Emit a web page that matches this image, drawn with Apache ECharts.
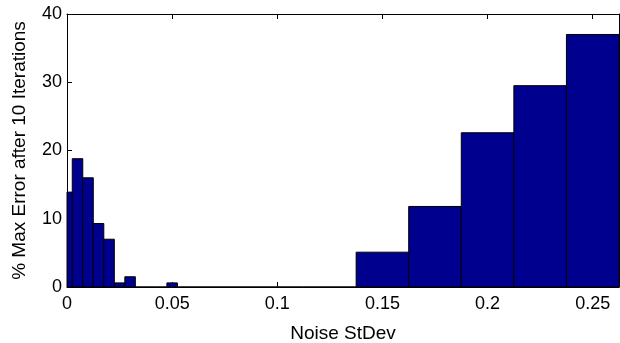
<!DOCTYPE html>
<html>
<head>
<meta charset="utf-8">
<script src="https://cdn.jsdelivr.net/npm/echarts@6/dist/echarts.min.js"></script>
<style>
html,body{margin:0;padding:0;background:#fff;}
#chart{width:620px;height:343px;}
</style>
</head>
<body>
<div id="chart"></div>
<script>
// Noise standard deviation values (bar centers, MATLAB 'hist' style bars)
const noiseStdev = [0, 0.005, 0.01, 0.015, 0.02, 0.025, 0.03, 0.035, 0.04, 0.045, 0.05, 0.055, 0.075, 0.1, 0.125, 0.15, 0.175, 0.2, 0.225, 0.25];
// % max error after 10 iterations
const maxErrorPct = [13.9, 18.8, 16.0, 9.3, 7.0, 0.6, 1.5, 0, 0, 0, 0.6, 0, 0, 0, 0, 5.1, 11.8, 22.6, 29.5, 37.0];
const xTicks = [0, 0.05, 0.1, 0.15, 0.2, 0.25];
const yTicks = [0, 10, 20, 30, 40];

// bar edges at midpoints between neighbouring centers
const barData = noiseStdev.map((x, i) => {
  const prev = i > 0 ? noiseStdev[i - 1] : x - (noiseStdev[1] - x);
  const next = i < noiseStdev.length - 1 ? noiseStdev[i + 1] : x + (x - noiseStdev[i - 1]);
  return [(prev + x) / 2, (x + next) / 2, maxErrorPct[i]];
});

const FONT = 'Liberation Sans';
const chart = echarts.init(document.getElementById('chart'));
const axisCommon = {
  axisLine: { show: true, onZero: false, lineStyle: { color: '#000', width: 1 } },
  axisTick: { show: true, inside: true, length: 5, lineStyle: { color: '#000' } },
  splitLine: { show: false }
};
chart.setOption({
  animation: false,
  backgroundColor: '#fff',
  grid: { left: 67, right: 1, top: 14, bottom: 56, containLabel: false, outerBoundsMode: 'none' },
  xAxis: [
    Object.assign({
      type: 'value', min: 0, max: 0.2625, interval: 0.05, position: 'bottom',
      name: 'Noise StDev', nameLocation: 'middle', nameGap: 37,
      nameTextStyle: { fontFamily: FONT, fontSize: 19, color: '#000' },
      axisLabel: {
        fontFamily: FONT, fontSize: 18, color: '#000', margin: 8, showMaxLabel: false,
        formatter: v => (xTicks.some(t => Math.abs(t - v) < 1e-9) ? String(+v.toFixed(4)) : '')
      }
    }, axisCommon),
    Object.assign({
      type: 'value', min: 0, max: 0.2625, interval: 0.05, position: 'top',
      axisLabel: { show: false }
    }, axisCommon)
  ],
  yAxis: [
    Object.assign({
      type: 'value', min: 0, max: 40, interval: 10, position: 'left',
      name: '% Max Error after 10 Iterations', nameLocation: 'middle', nameGap: 38,
      nameTextStyle: { fontFamily: FONT, fontSize: 19, color: '#000' },
      axisLabel: {
        fontFamily: FONT, fontSize: 18, color: '#000', margin: 5,
        formatter: v => (yTicks.includes(v) ? String(v) : '')
      }
    }, axisCommon),
    Object.assign({
      type: 'value', min: 0, max: 40, interval: 10, position: 'right',
      axisLabel: { show: false }
    }, axisCommon)
  ],
  series: [{
    type: 'custom',
    xAxisIndex: 0, yAxisIndex: 0,
    data: barData,
    encode: { x: [0, 1], y: 2 },
    renderItem: function (params, api) {
      const p0 = api.coord([api.value(0), api.value(2)]);
      const p1 = api.coord([api.value(1), 0]);
      const rect = echarts.graphic.clipRectByRect(
        { x: p0[0], y: p0[1], width: p1[0] - p0[0], height: p1[1] - p0[1] },
        { x: params.coordSys.x, y: params.coordSys.y, width: params.coordSys.width, height: params.coordSys.height }
      );
      return rect && {
        type: 'rect',
        shape: rect,
        style: { fill: '#00008F', stroke: '#000', lineWidth: 1 }
      };
    }
  }]
});
</script>
</body>
</html>
